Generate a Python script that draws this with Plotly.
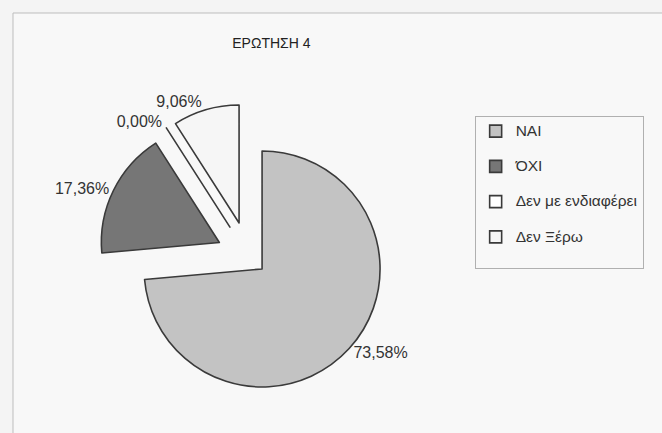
import plotly.graph_objects as go

# Data
labels = ["ΝΑΙ", "ΌΧΙ", "Δεν με ενδιαφέρει", "Δεν Ξέρω"]
values = [73.58, 17.36, 0.00, 9.06]
colors = ["#c3c3c3", "#767676", "#ffffff", "#f6f6f6"]
pulls = [0.15, 0.28, 0.3, 0.3]
title_text = "ΕΡΩΤΗΣΗ 4"

FONT = "Liberation Sans Narrow, Arial Narrow, Liberation Sans, Arial, sans-serif"

legend_labels = ["<span style='font-size:15.5px'>%s</span><br> " % l for l in labels]

fig = go.Figure(
    go.Pie(
        labels=legend_labels,
        values=values,
        sort=False,
        direction="clockwise",
        rotation=0,
        pull=pulls,
        marker=dict(colors=colors, line=dict(color="#3a3a3a", width=1.6)),
        texttemplate="%{value:.2f}%",
        textposition="outside",
        textfont=dict(family=FONT, size=16, color="#333333"),
        showlegend=True,
        domain=dict(x=[0.1444, 0.6079], y=[0.0522, 0.7607]),
        hoverinfo="value",
    )
)

fig.update_layout(
    width=662,
    height=433,
    margin=dict(l=0, r=0, t=0, b=0, autoexpand=False),
    paper_bgcolor="#f4f4f4",
    plot_bgcolor="#f4f4f4",
    separators=",.",
    title=dict(
        text=title_text,
        x=0.41,
        xanchor="center",
        y=0.90,
        yanchor="middle",
        font=dict(family=FONT, size=14, color="#222222"),
    ),
    legend=dict(
        x=0.717,
        y=0.733,
        xanchor="left",
        yanchor="top",
        bgcolor="rgba(0,0,0,0)",
        bordercolor="#b0b0b0",
        borderwidth=1,
        font=dict(family=FONT, size=12.4, color="#333333"),
        valign="top",
        itemwidth=30,
    ),
    shapes=[
        dict(
            type="rect",
            xref="paper",
            yref="paper",
            x0=13 / 662,
            x1=1.05,
            y0=-0.05,
            y1=1 - 13 / 433,
            line=dict(color="#bdbdbd", width=1),
            fillcolor="rgba(255,255,255,0.35)",
            layer="below",
        )
    ],
)

fig.write_html("out.html")
